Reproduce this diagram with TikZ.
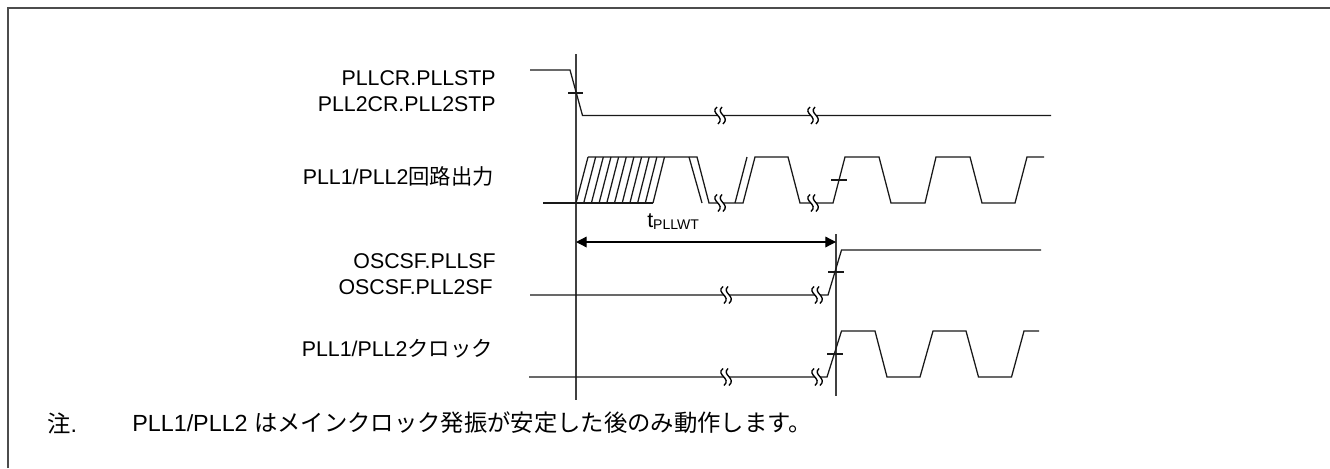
\documentclass[tikz,border=0pt]{standalone}
\usepackage{fontspec}
\setmainfont{Liberation Sans}
\newfontfamily\cjk{Noto Sans CJK JP}
\usetikzlibrary{arrows.meta}
\tikzset{
    wave/.style={line width=0.95pt, black!90, line join=miter},
    guide/.style={line width=0.95pt, black!75},
    frameline/.style={line width=1.5pt, black!70},
    sig/.style={anchor=east, font=\fontsize{16}{18}\selectfont, inner sep=0pt},
    notes/.style={anchor=west, font=\fontsize{17.5}{20}\selectfont, inner sep=0pt},
    brk/.pic={
        \fill[white] (-3,-8.5) .. controls (-11,-2) and (6,1) .. (-2,8.5) -- (3,8.5) .. controls (11,1) and (-5,-2) .. (2,-8.5) -- cycle;
        \draw[line width=1pt, black] (-3,-8.5) .. controls (-11,-2) and (6,1) .. (-2,8.5);
        \draw[line width=1pt, black] (2,-8.5) .. controls (-5,-2) and (11,1) .. (3,8.5);
    }
}
\begin{document}
\begin{tikzpicture}[x=0.75pt,y=-0.75pt]
    \useasboundingbox (0,0) rectangle (1330,468);

    % Frame
    \draw[frameline] (7.5,468) -- (7.5,7.5) -- (1330,7.5);

    % Labels
    \node[sig] (stp1) at (496,78) {PLLCR.PLLSTP};
    \node[sig] (stp2) at (496,104) {PLL2CR.PLL2STP};
    \node[sig] (out) at (494,176) {PLL1/PLL2{\cjk 回路出力}};
    \node[sig] (sf1) at (496,261) {OSCSF.PLLSF};
    \node[sig] (sf2) at (493,287) {OSCSF.PLL2SF};
    \node[sig] (clk) at (493,349) {PLL1/PLL2{\cjk クロック}};
    \node[notes] (note) at (47,423) {{\cjk 注}.};
    \node[notes] (notetext) at (132,423) {PLL1/PLL2 {\cjk はメインクロック発振が安定した後のみ動作します。}};
    \node[inner sep=0pt, anchor=base west, font=\fontsize{16}{18}\selectfont] (twait) at (647,227) {t\raisebox{-0.2ex}{\fontsize{10.5}{10}\selectfont PLLWT}};

    % Guides
    \coordinate (topa) at (576,54);
    \coordinate (bota) at (576,400);
    \coordinate (topb) at (836,234);
    \coordinate (botb) at (836,396);
    \draw[guide] (topa) -- (bota);
    \draw[guide] (topb) -- (botb);

    % Arrows
    \coordinate (dima) at (576,242);
    \coordinate (dimb) at (836,242);
    \draw[wave, black, {Triangle[length=8pt,width=8pt]}-{Triangle[length=8pt,width=8pt]}] (dima) -- (dimb);

    % Waves
    \draw[wave] (530,70) -- (570,70) -- (582.5,115.5) -- (1051,115.5);
    \draw[wave] (568,93) -- (583,93);

    \draw[wave] (543,203) -- (653,203);
    \draw[wave] (588,157) -- (697,157) -- (709,203) -- (743,203) -- (755,157) -- (788,157) -- (800,203) -- (833,203) -- (845,157) -- (879,157) -- (891,203) -- (925,203) -- (936,157) -- (970,157) -- (982,203) -- (1015,203) -- (1027,157) -- (1044,157);
    \foreach \i in {0,...,10}
        \draw[wave] (576+\i*7.7,203) -- (588+\i*7.65,157);
    \draw[wave] (689,157) -- (702,203);
    \draw[wave] (735,203) -- (747,157);
    \draw[wave] (831,180) -- (847,180);

    \draw[wave] (530,295) -- (828,295) -- (841.5,250) -- (1041,250);
    \draw[wave] (828,272) -- (844,272);

    \draw[wave] (529,377) -- (827,377) -- (841.5,331) -- (875,331) -- (887,377) -- (920,377) -- (933,331) -- (966,331) -- (978.5,377) -- (1011.5,377) -- (1024,331) -- (1039,331);
    \draw[wave] (827,354) -- (843,354);

    % Breaks
    \foreach \bx/\by in {720/115.5,813/115.5,720/203,813/203,726/295,817/295,726/377,817/377}
        \pic at (\bx,\by) {brk};
\end{tikzpicture}
\end{document}
